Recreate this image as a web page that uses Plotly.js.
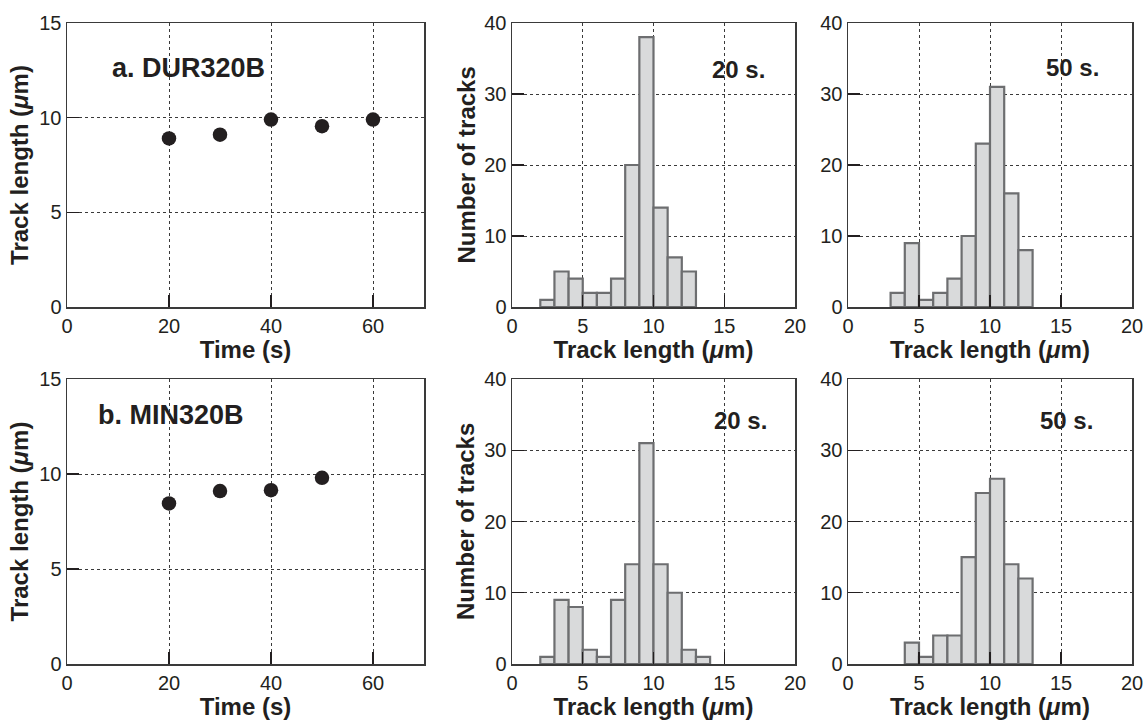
<!DOCTYPE html>
<html>
<head>
<meta charset="utf-8">
<script src="https://cdn.plot.ly/plotly-3.0.1.min.js"></script>
<style>
  html, body { margin: 0; padding: 0; background: #fff; }
  #chart { width: 1147px; height: 723px; }
</style>
</head>
<body>
<div id="chart"></div>
<script>
// Mean track length against etching time
const timesDUR = [20, 30, 40, 50, 60];
const meanLenDUR = [8.9, 9.1, 9.9, 9.55, 9.9];
const timesMIN = [20, 30, 40, 50];
const meanLenMIN = [8.45, 9.1, 9.15, 9.8];

// Track length histograms (1 µm bins, given by bin centre)
const binsDUR20 = [2.5, 3.5, 4.5, 5.5, 6.5, 7.5, 8.5, 9.5, 10.5, 11.5, 12.5];
const countsDUR20 = [1, 5, 4, 2, 2, 4, 20, 38, 14, 7, 5];
const binsDUR50 = [3.5, 4.5, 5.5, 6.5, 7.5, 8.5, 9.5, 10.5, 11.5, 12.5];
const countsDUR50 = [2, 9, 1, 2, 4, 10, 23, 31, 16, 8];
const binsMIN20 = [2.5, 3.5, 4.5, 5.5, 6.5, 7.5, 8.5, 9.5, 10.5, 11.5, 12.5, 13.5];
const countsMIN20 = [1, 9, 8, 2, 1, 9, 14, 31, 14, 10, 2, 1];
const binsMIN50 = [4.5, 5.5, 6.5, 7.5, 8.5, 9.5, 10.5, 11.5, 12.5];
const countsMIN50 = [3, 1, 4, 4, 15, 24, 26, 14, 12];

const panelLabels = ['a. DUR320B', 'b. MIN320B'];
const histLabels = ['20 s.', '50 s.', '20 s.', '50 s.'];
const countTitle = 'Number of tracks';

const INK = '#231f20';
const FONT = 'Liberation Sans, Arial, Helvetica, sans-serif';

function scatter(x, y, xa, ya) {
  return {
    type: 'scatter', mode: 'markers', x: x, y: y, xaxis: xa, yaxis: ya,
    marker: { size: 14.5, color: INK }, hoverinfo: 'x+y', showlegend: false
  };
}
function hist(x, y, xa, ya) {
  return {
    type: 'bar', x: x, y: y, width: 1, xaxis: xa, yaxis: ya,
    marker: { color: '#d9dadb', line: { color: '#6d6e70', width: 2.2 } },
    showlegend: false
  };
}

const data = [
  scatter(timesDUR, meanLenDUR, 'x', 'y'),
  hist(binsDUR20, countsDUR20, 'x2', 'y2'),
  hist(binsDUR50, countsDUR50, 'x3', 'y3'),
  scatter(timesMIN, meanLenMIN, 'x4', 'y4'),
  hist(binsMIN20, countsMIN20, 'x5', 'y5'),
  hist(binsMIN50, countsMIN50, 'x6', 'y6')
];

const W = 1147, H = 723;
const colPx = [[67, 424], [512, 795], [848, 1132]];
const rowPx = [[23, 307], [379, 664]];
const xDom = c => [colPx[c][0] / W, colPx[c][1] / W];
const yDom = r => [1 - rowPx[r][1] / H, 1 - rowPx[r][0] / H];

const tickFont = { family: FONT, size: 20, color: INK };
const titleFont = { family: FONT, size: 24, color: INK };
const lenTitle = '<b>Track length (<i>μ</i>m)</b>';

function xAxis(c, range, dtick, title, anchor) {
  return {
    domain: xDom(c), anchor: anchor, range: range, dtick: dtick, tick0: 0,
    showline: true, mirror: true, linecolor: '#3a3a3a', linewidth: 1.5,
    ticks: 'inside', ticklen: 12, tickwidth: 1.2, tickcolor: INK,
    showgrid: true, gridcolor: '#3a3a3a', gridwidth: 1, griddash: 'dot',
    zeroline: false, tickfont: tickFont, fixedrange: true,
    title: { text: title, font: titleFont, standoff: 3 }
  };
}
function yAxis(r, range, dtick, title, anchor, standoff) {
  return {
    domain: yDom(r), anchor: anchor, range: range, dtick: dtick, tick0: 0,
    showline: true, mirror: true, linecolor: '#3a3a3a', linewidth: 1.5,
    ticks: 'inside', ticklen: 12, tickwidth: 1.2, tickcolor: INK,
    showgrid: true, gridcolor: '#3a3a3a', gridwidth: 1, griddash: 'dot',
    zeroline: false, tickfont: tickFont, fixedrange: true,
    title: { text: title, font: titleFont, standoff: standoff }
  };
}

function label(text, xa, ya, x, y, anchor, size) {
  return {
    text: '<b>' + text + '</b>', xref: xa + ' domain', yref: ya + ' domain',
    x: x, y: y, xanchor: anchor, yanchor: 'middle', showarrow: false,
    font: { family: FONT, size: size, color: INK }
  };
}
// Count-axis titles, placed left of the tick labels
function countAxisTitle(xa, ya) {
  return {
    text: '<b>' + countTitle + '</b>', xref: xa + ' domain', yref: ya + ' domain',
    x: -0.164, y: 0.5, xanchor: 'center', yanchor: 'middle', textangle: -90,
    showarrow: false, font: titleFont
  };
}

const layout = {
  width: W, height: H,
  margin: { l: 0, r: 0, t: 0, b: 0 },
  paper_bgcolor: '#ffffff', plot_bgcolor: '#ffffff',
  font: { family: FONT, color: INK },
  bargap: 0,
  xaxis: xAxis(0, [0, 70], 20, '<b>Time (s)</b>', 'y'),
  yaxis: yAxis(0, [0, 15], 5, lenTitle, 'x', 4),
  xaxis2: xAxis(1, [0, 20], 5, lenTitle, 'y2'),
  yaxis2: yAxis(0, [0, 40], 10, '', 'x2', 0),
  xaxis3: xAxis(2, [0, 20], 5, lenTitle, 'y3'),
  yaxis3: yAxis(0, [0, 40], 10, '', 'x3', 0),
  xaxis4: xAxis(0, [0, 70], 20, '<b>Time (s)</b>', 'y4'),
  yaxis4: yAxis(1, [0, 15], 5, lenTitle, 'x4', 4),
  xaxis5: xAxis(1, [0, 20], 5, lenTitle, 'y5'),
  yaxis5: yAxis(1, [0, 40], 10, '', 'x5', 0),
  xaxis6: xAxis(2, [0, 20], 5, lenTitle, 'y6'),
  yaxis6: yAxis(1, [0, 40], 10, '', 'x6', 0),
  annotations: [
    label(panelLabels[0], 'x', 'y', 0.12, 0.84, 'left', 27),
    label(panelLabels[1], 'x4', 'y4', 0.081, 0.874, 'left', 27),
    label(histLabels[0], 'x2', 'y2', 0.80, 0.838, 'center', 24),
    label(histLabels[1], 'x3', 'y3', 0.789, 0.845, 'center', 24),
    label(histLabels[2], 'x5', 'y5', 0.806, 0.853, 'center', 24),
    label(histLabels[3], 'x6', 'y6', 0.768, 0.856, 'center', 24),
    countAxisTitle('x2', 'y2'),
    countAxisTitle('x5', 'y5')
  ]
};

Plotly.newPlot('chart', data, layout, { staticPlot: true, displayModeBar: false });
</script>
</body>
</html>
